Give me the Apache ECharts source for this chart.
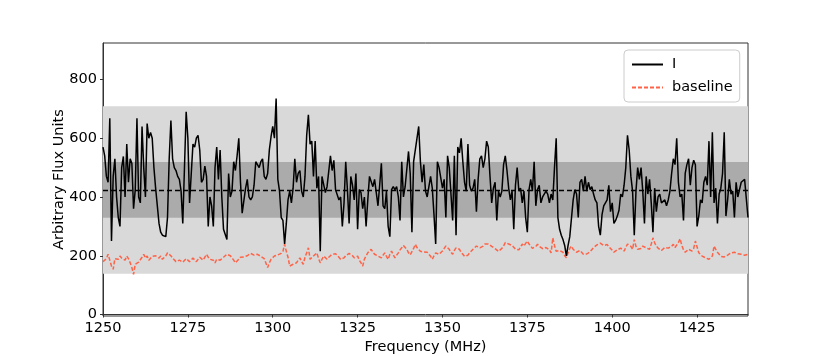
<!DOCTYPE html>
<html>
<head>
<meta charset="utf-8">
<script src="https://cdn.jsdelivr.net/npm/echarts@6/dist/echarts.min.js"></script>
<style>
  html, body { margin: 0; padding: 0; background: #fff; }
  #chart { width: 830px; height: 356px; }
</style>
</head>
<body>
<div id="chart"></div>
<script>
// spectrum, 0.5 MHz channels starting at 1250 MHz
var freqStart = 1250;
var freqStep = 0.5;

// Stokes I, one row = 5 MHz
var fluxI = [
  570, 540, 470, 450, 668, 250, 470, 530, 400, 330,
  300, 500, 538, 400, 580, 450, 530, 515, 360, 425,
  668, 400, 380, 640, 500, 400, 650, 600, 620, 600,
  500, 430, 425, 310, 280, 270, 267, 265, 330, 530,
  660, 530, 500, 490, 470, 460, 420, 310, 500, 690,
  600, 380, 480, 580, 570, 600, 610, 560, 450, 460,
  505, 470, 300, 400, 370, 300, 500, 570, 460, 560,
  400, 290, 290, 255, 480, 400, 420, 520, 490, 540,
  600, 450, 345, 340, 430, 460, 400, 390, 400, 440,
  520, 525, 500, 520, 530, 470, 460, 480, 560, 605,
  640, 600, 735, 460, 420, 330, 320, 240, 310, 390,
  420, 380, 430, 530, 450, 480, 490, 420, 400, 470,
  610, 680, 580, 590, 470, 590, 430, 470, 215, 470,
  470, 415, 435, 435, 540, 490, 525, 425, 425, 390,
  400, 300, 380, 520, 425, 310, 470, 440, 390, 480,
  290, 425, 415, 360, 400, 300, 390, 470, 470, 435,
  460, 415, 370, 440, 515, 370, 360, 420, 300, 265,
  425, 435, 425, 435, 400, 320, 520, 400, 435, 430,
  555, 480, 280, 520, 520, 600, 640, 520, 450, 510,
  420, 400, 400, 470, 430, 340, 240, 520, 500, 500,
  430, 460, 330, 540, 500, 500, 320, 540, 270, 570,
  550, 600, 520, 450, 420, 580, 440, 420, 430, 460,
  350, 460, 530, 540, 500, 530, 590, 570, 470, 380,
  430, 450, 320, 420, 400, 420, 510, 540, 490, 430,
  390, 420, 290, 440, 500, 420, 430, 380, 420, 330,
  280, 425, 460, 420, 520, 370, 425, 440, 380, 400,
  400, 420, 410, 380, 410, 390, 500, 600, 330, 290,
  270, 255, 235, 200, 235, 265, 265, 390, 425, 410,
  330, 450, 460, 420, 470, 420, 450, 425, 435, 410,
  390, 380, 300, 270, 340, 370, 370, 390, 440, 350,
  380, 310, 320, 335, 355, 410, 400, 440, 500, 610,
  560, 470, 420, 270, 420, 500, 460, 500, 420, 310,
  470, 410, 460, 380, 280, 430, 350, 400, 410, 380,
  375, 390, 370, 390, 420, 480, 530, 510, 600, 450,
  400, 410, 320, 480, 510, 530, 440, 500, 525, 510,
  300, 335, 390, 380, 450, 470, 440, 590, 400, 620,
  380, 430, 310, 410, 430, 480, 620, 335, 390, 460,
  410, 420, 330, 450, 400, 425, 450, 450, 460, 460,
  330
];

var baseline = [
  180, 176, 190, 205, 185, 165, 154, 190, 185, 188,
  199, 192, 193, 185, 199, 190, 176, 160, 137, 171,
  165, 178, 182, 195, 205, 192, 199, 185, 188, 198,
  193, 200, 205, 192, 199, 188, 193, 200, 210, 205,
  200, 192, 188, 180, 176, 185, 188, 178, 182, 190,
  188, 180, 182, 192, 188, 180, 182, 195, 193, 185,
  188, 205, 195, 188, 190, 185, 176, 188, 193, 185,
  188, 195, 199, 205, 210, 200, 199, 185, 176, 182,
  188, 195, 199, 196, 193, 200, 205, 208, 210, 202,
  199, 205, 210, 198, 193, 190, 188, 160, 176, 188,
  193, 199, 199, 203, 205, 208, 215, 239, 215, 195,
  165, 170, 171, 172, 176, 185, 193, 180, 171, 195,
  210, 227, 188, 193, 199, 205, 210, 190, 176, 188,
  199, 193, 188, 195, 199, 205, 210, 207, 205, 195,
  188, 190, 193, 200, 205, 208, 210, 200, 193, 196,
  199, 185, 176, 165, 188, 200, 210, 215, 222, 212,
  205, 202, 199, 195, 193, 202, 210, 198, 188, 205,
  216, 203, 193, 202, 210, 220, 227, 235, 239, 222,
  210, 203, 199, 225, 239, 228, 222, 215, 210, 213,
  216, 212, 210, 198, 188, 200, 210, 208, 205, 210,
  216, 225, 233, 228, 222, 212, 205, 218, 227, 224,
  222, 212, 205, 198, 193, 202, 210, 216, 222, 228,
  233, 229, 227, 231, 233, 240, 244, 240, 239, 232,
  227, 224, 222, 215, 210, 225, 233, 245, 250, 240,
  239, 235, 233, 222, 216, 220, 222, 240, 233, 242,
  250, 240, 233, 225, 222, 232, 239, 232, 227, 224,
  222, 228, 233, 220, 210, 261, 235, 215, 210, 218,
  222, 212, 200, 193, 210, 225, 233, 222, 216, 212,
  210, 218, 222, 205, 199, 206, 210, 214, 216, 228,
  233, 237, 239, 243, 244, 235, 233, 238, 239, 225,
  222, 212, 210, 220, 222, 226, 227, 216, 228, 240,
  244, 232, 222, 255, 232, 222, 216, 225, 233, 230,
  227, 224, 222, 240, 261, 244, 233, 226, 222, 218,
  216, 228, 233, 226, 222, 232, 239, 228, 222, 245,
  258, 235, 220, 212, 214, 222, 220, 216, 225, 250,
  230, 210, 205, 199, 196, 193, 190, 188, 193, 199,
  233, 222, 212, 205, 198, 193, 196, 199, 202, 205,
  210, 216, 212, 210, 207, 205, 205, 205, 202, 199,
  205
];

// mean level and +-1 sigma / +-3 sigma bands
var meanLevel = 424;
var band1 = [329, 519];
var band3 = [139, 709];

var xTicks = [1250, 1275, 1300, 1325, 1350, 1375, 1400, 1425];
var yTicks = [0, 200, 400, 600, 800];

function pairs(values) {
    var out = [];
    for (var i = 0; i < values.length; i++) {
        out.push([freqStart + i * freqStep, values[i]]);
    }
    return out;
}

var font = 'DejaVu Sans';
var myChart = echarts.init(document.getElementById('chart'));
var option = {
    animation: false,
    textStyle: { fontFamily: font },
    grid: {
        left: 103, right: 82, top: 43, bottom: 40,
        outerBoundsMode: 'none',
        containLabel: false,
        show: true, borderColor: '#333', borderWidth: 1,
        backgroundColor: 'transparent'
    },
    legend: {
        data: ['I', 'baseline'],
        orient: 'vertical',
        left: 624, top: 50,
        padding: [7, 7, 7, 7],
        itemGap: 8,
        itemWidth: 31,
        itemHeight: 12,
        backgroundColor: '#fff',
        borderColor: '#cccccc',
        borderWidth: 1,
        borderRadius: 4,
        itemStyle: { color: 'transparent', borderColor: 'transparent', borderWidth: 0, opacity: 0 },
        textStyle: { fontFamily: font, fontSize: 14.5, color: '#000', padding: [0, 0, 0, 4] }
    },
    xAxis: {
        type: 'value',
        min: 1250, max: 1440,
        name: 'Frequency (MHz)',
        nameLocation: 'middle',
        nameGap: 24,
        nameMoveOverlap: false,
        nameTextStyle: { fontFamily: font, fontSize: 14.5, color: '#000' },
        axisLine: { show: true, lineStyle: { color: '#333', width: 1 } },
        axisTick: { show: true, inside: false, length: 3, customValues: xTicks, lineStyle: { color: '#333' } },
        axisLabel: {
            fontFamily: font, fontSize: 14.5, color: '#000', margin: 5, customValues: xTicks,
            formatter: function (v) { return String(v); }
        },
        splitLine: { show: false }
    },
    yAxis: {
        type: 'value',
        min: -5, max: 924,
        name: 'Arbitrary Flux Units',
        nameLocation: 'middle',
        nameGap: 36,
        nameMoveOverlap: false,
        nameTextStyle: { fontFamily: font, fontSize: 14.5, color: '#000' },
        axisLine: { show: true, lineStyle: { color: '#333', width: 1 } },
        axisTick: { show: true, inside: false, length: 3, customValues: yTicks, lineStyle: { color: '#333' } },
        axisLabel: {
            fontFamily: font, fontSize: 14.5, color: '#000', margin: 6, customValues: yTicks,
            formatter: function (v) { return String(v); }
        },
        splitLine: { show: false }
    },
    series: [
        {
            name: 'bands',
            type: 'line',
            data: [],
            z: -1,
            silent: true,
            markArea: {
                silent: true,
                data: [
                    [{ yAxis: band3[0], itemStyle: { color: '#d9d9d9' } }, { yAxis: band3[1] }],
                    [{ yAxis: band1[0], itemStyle: { color: '#ababab' } }, { yAxis: band1[1] }]
                ]
            }
        },
        {
            name: 'I',
            type: 'line',
            data: pairs(fluxI),
            showSymbol: false,
            symbol: 'none',
            z: 3,
            lineStyle: { color: '#000', width: 1.5 },
            itemStyle: { color: '#000' }
        },
        {
            name: 'baseline',
            type: 'line',
            data: pairs(baseline),
            showSymbol: false,
            symbol: 'none',
            z: 2,
            lineStyle: { color: '#ff6347', width: 1.5, type: [4, 2] },
            itemStyle: { color: '#ff6347' }
        },
        {
            name: 'mean',
            type: 'line',
            data: [],
            z: 4,
            silent: true,
            markLine: {
                silent: true,
                symbol: 'none',
                label: { show: false },
                lineStyle: { color: '#000', type: [5, 3], width: 1.3 },
                data: [{ yAxis: meanLevel }]
            }
        }
    ]
};
myChart.setOption(option);
</script>
</body>
</html>
